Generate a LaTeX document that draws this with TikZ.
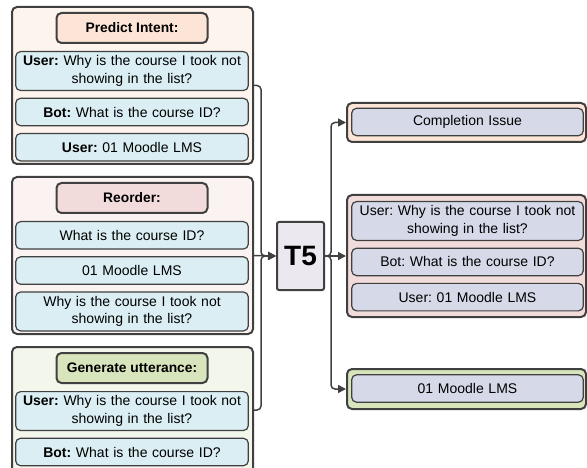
\documentclass[tikz,border=0pt]{standalone}
\usepackage{fontspec}
\setmainfont{Liberation Sans}
\usetikzlibrary{positioning,arrows.meta}
\definecolor{linegray}{HTML}{404040}
\definecolor{peach}{HTML}{FCE4D6}
\definecolor{peachlight}{HTML}{FDF4EE}
\definecolor{rose}{HTML}{F2DCDB}
\definecolor{roselight}{HTML}{FBF3F2}
\definecolor{sage}{HTML}{D8E4BC}
\definecolor{sagelight}{HTML}{F3F6EB}
\definecolor{turnblue}{HTML}{DAEEF3}
\definecolor{outblue}{HTML}{D6DAE8}
\definecolor{modelfill}{HTML}{EBE8F0}
\frenchspacing
\begin{document}
\begin{tikzpicture}[x=1pt, y=-1pt, node distance=6.5pt,
    panel/.style={draw=linegray, line width=2pt, rounded corners=5pt, inner sep=0pt},
    task/.style={draw=linegray, line width=2pt, rounded corners=5pt, minimum width=151pt, minimum height=30pt, font=\fontsize{13.8}{16}\selectfont\bfseries},
    turn/.style={draw=linegray, line width=1.2pt, rounded corners=5pt, fill=turnblue, text width=226pt, align=center, minimum height=27.5pt, inner ysep=4.2pt, font=\fontsize{14}{17.5}\selectfont},
    reply/.style={turn, fill=outblue, text width=225pt},
    flow/.style={draw=linegray, line width=1.5pt, rounded corners=4pt, -{Triangle[length=8pt,width=8pt]}}]
    \useasboundingbox (0,0) rectangle (587,468);

    % left: inputs
    \node (1) [panel, fill=peachlight, minimum width=241pt, minimum height=157pt] at (132.5,85.5) {};
    \node (2) [task, fill=peach] at (132,28) {Predict Intent:};
    \node (3) [turn, below=7pt of 2] {\textbf{User:} Why is the course I took not\\showing in the list?};
    \node (4) [turn, below=of 3] {\textbf{Bot:} What is the course ID?};
    \node (5) [turn, below=of 4] {\textbf{User:} 01 Moodle LMS};

    \node (6) [panel, fill=roselight, minimum width=241pt, minimum height=157pt] at (132.5,255.5) {};
    \node (7) [task, fill=rose] at (132,198) {Reorder:};
    \node (8) [turn, below=7pt of 7] {What is the course ID?};
    \node (9) [turn, below=of 8] {01 Moodle LMS};
    \node (10) [turn, below=of 9] {Why is the course I took not\\showing in the list?};

    \node (11) [panel, fill=sagelight, minimum width=241pt, minimum height=126pt] at (132.5,410) {};
    \node (12) [task, fill=sage] at (132,368) {Generate utterance:};
    \node (13) [turn, below=7pt of 12] {\textbf{User:} Why is the course I took not\\showing in the list?};
    \node (14) [turn, below=of 13] {\textbf{Bot:} What is the course ID?};

    % model
    \node (15) [draw=linegray, line width=2pt, rounded corners=2pt, fill=modelfill, minimum width=47pt, minimum height=68pt, font=\fontsize{28}{28}\selectfont\bfseries] at (300.5,256) {T5};

    % right: outputs
    \node (16) [panel, fill=peach, minimum width=239pt, minimum height=39pt] at (466.5,122.5) {};
    \node (17) [reply] at (467.5,122) {Completion Issue};

    \node (18) [panel, fill=rose, minimum width=239pt, minimum height=122pt] at (466.5,256) {};
    \node (19) [reply] at (467.5,221) {User: Why is the course I took not\\showing in the list?};
    \node (20) [reply, below=of 19] {Bot: What is the course ID?};
    \node (21) [reply, below=of 20] {User: 01 Moodle LMS};

    \node (22) [panel, fill=sage, minimum width=239pt, minimum height=40pt] at (466.5,389) {};
    \node (23) [reply] at (467.5,388.5) {01 Moodle LMS};

    \draw [flow] (1.east) -- ++(7,0) |- (15.west);
    \draw [flow] (6.east) -- (15.west);
    \draw [flow] (11.east) -- ++(7,0) |- (15.west);

    \draw [flow] (15.east) -- (18.west);
    \draw [flow] (15.east) -- ++(6,0) |- (16.west);
    \draw [flow] (15.east) -- ++(6,0) |- (22.west);
\end{tikzpicture}
\end{document}
